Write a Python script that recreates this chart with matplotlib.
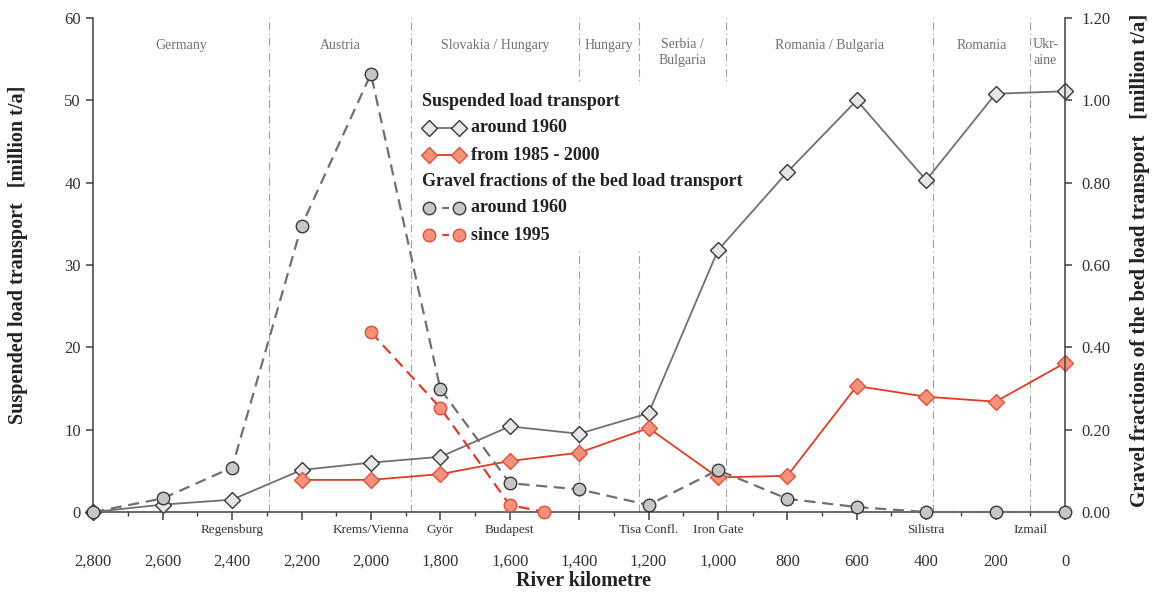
import matplotlib
matplotlib.use('Agg')
import matplotlib.pyplot as plt
from matplotlib.lines import Line2D
from matplotlib.patches import Rectangle
import numpy as np

plt.rcParams['font.family'] = ['Liberation Serif', 'DejaVu Serif']

# river kilometre stations (every 200 km)
river_km = [2800, 2600, 2400, 2200, 2000, 1800, 1600, 1400, 1200, 1000, 800, 600, 400, 200, 0]

# suspended load transport [million t/a], left axis
susp_1960 = [0.0, 0.9, 1.5, 5.1, 6.0, 6.7, 10.4, 9.5, 12.0, 31.8, 41.3, 50.0, 40.3, 50.8, 51.1]
susp_recent_km = [2200, 2000, 1800, 1600, 1400, 1200, 1000, 800, 600, 400, 200, 0]
susp_recent = [3.9, 3.9, 4.6, 6.2, 7.2, 10.2, 4.2, 4.4, 15.3, 14.0, 13.4, 18.1]

# gravel fractions of bed load [million t/a], right axis
gravel_1960 = [0.0, 0.033, 0.108, 0.695, 1.064, 0.299, 0.070, 0.055, 0.017, 0.102,
               0.032, 0.012, 0.0, 0.0, 0.0]
gravel_recent_km = [2000, 1800, 1600, 1500]
gravel_recent = [0.437, 0.253, 0.017, 0.0]

# country borders and labels
borders_km = [2293, 1885, 1400, 1227, 978, 381, 100]
countries = ['Germany', 'Austria', 'Slovakia / Hungary', 'Hungary', 'Serbia /\nBulgaria',
             'Romania / Bulgaria', 'Romania', 'Ukr-\naine']

places = ['Regensburg', 'Krems/Vienna', 'Györ', 'Budapest', 'Tisa Confl.', 'Iron Gate',
          'Silistra', 'Izmail']
places_km = [2400, 2000, 1800, 1600, 1200, 1000, 400, 100]

W, H = 1156, 592
def px(x, y):
    return x / W, 1 - y / H

GRAY_LINE = '#707070'
RED_LINE = '#e03c28'
RED_FACE = '#f4917a'
RED_EDGE = '#e0503a'
DIAM_FACE = '#e6e6e6'
CIRC_FACE = '#c6c6c6'
EDGE = '#383838'
AXC = '#404040'

fig = plt.figure(figsize=(W / 100, H / 100), dpi=100)
ax = fig.add_axes([93.3 / W, 80 / H, (1065 - 93.3) / W, 494 / H])
ax2 = ax.twinx()

ax.set_xlim(2800, 0)
ax.set_ylim(0, 60)
ax2.set_ylim(0, 1.2)

for a in (ax, ax2):
    a.spines['top'].set_visible(False)
    for s in a.spines.values():
        s.set_color(AXC)
        s.set_linewidth(1.1)
ax.spines['right'].set_visible(False)
ax2.spines['left'].set_visible(False)
ax2.spines['bottom'].set_visible(False)

# border lines
for b in borders_km:
    ax.axvline(b, color='#a0a0a0', lw=0.8, ls=(0, (7, 3, 1, 3)), zorder=1)

# white box behind the legend
ax.add_patch(Rectangle(px(415, 250), 350 / W, 165 / H, transform=fig.transFigure,
                       facecolor='white', edgecolor='none', zorder=2))

dash = (0, (5, 3))
ax.plot(river_km, susp_1960, color=GRAY_LINE, lw=1.3, marker='D', ms=8,
        mfc=DIAM_FACE, mec=EDGE, mew=1.0, zorder=3, clip_on=False)
ax.plot(susp_recent_km, susp_recent, color=RED_LINE, lw=1.3, marker='D', ms=8,
        mfc=RED_FACE, mec=RED_EDGE, mew=1.0, zorder=3, clip_on=False)
ax2.plot(river_km, gravel_1960, color=GRAY_LINE, lw=1.6, ls=dash, marker='o', ms=9,
         mfc=CIRC_FACE, mec=EDGE, mew=1.0, zorder=3, clip_on=False)
ax2.plot(gravel_recent_km, gravel_recent, color=RED_LINE, lw=1.6, ls=dash, marker='o', ms=9,
         mfc=RED_FACE, mec=RED_EDGE, mew=1.0, zorder=4, clip_on=False)

# ticks
ax.set_xticks(river_km)
ax.set_xticklabels([f'{k:,}' for k in river_km])
ax.set_xticks(list(range(2700, 0, -200)), minor=True)
ax.tick_params(axis='x', which='major', direction='out', length=6, width=1.1, pad=24,
               labelsize=12, color=AXC, labelcolor='#333333')
ax.tick_params(axis='x', which='minor', direction='out', length=3, width=1.0, color=AXC)
ax.set_yticks(range(0, 61, 10))
ax.tick_params(axis='y', direction='out', length=5, width=1.1, pad=4, labelsize=12,
               color=AXC, labelcolor='#333333')
gticks = np.arange(0, 1.21, 0.2)
ax2.set_yticks(gticks)
ax2.set_yticklabels([f'{v:.2f}' for v in gticks])
ax2.tick_params(axis='y', direction='out', length=5, width=1.1, pad=7, labelsize=12,
                color=AXC, labelcolor='#333333')

# country labels
edges = [2800] + borders_km + [0]
for i, name in enumerate(countries):
    if name.startswith('Ukr'):
        ax.text(borders_km[-1] - 8, 0.93, name, ha='left', va='center', fontsize=10,
                color='#707070', transform=ax.get_xaxis_transform(), linespacing=1.3)
    else:
        mid = (edges[i] + edges[i + 1]) / 2
        yy = 0.93 if '\n' in name else 0.945
        ax.text(mid, yy, name, ha='center', va='center', fontsize=10,
                color='#707070', transform=ax.get_xaxis_transform(), linespacing=1.3)

# place labels under the axis
for name, km in zip(places, places_km):
    ax.annotate(name, xy=(km, 0), xycoords=('data', 'axes fraction'),
                xytext=(0, -13), textcoords='offset points', ha='center', va='center',
                fontsize=9.5, color='#333333', annotation_clip=False)

# axis labels
fig.text(*px(18, 255), 'Suspended load transport   [million t/a]', rotation=90,
         ha='center', va='center', fontsize=14.5, fontweight='bold', color='#222222')
fig.text(*px(1140, 260), 'Gravel fractions of the bed load transport   [million t/a]',
         rotation=90, ha='center', va='center', fontsize=15, fontweight='bold', color='#222222')
fig.text(*px(584, 581), 'River kilometre', ha='center', va='center', fontsize=14.5,
         fontweight='bold', color='#222222')

# legend (drawn by hand so headers sit flush with the handles)
rows = [
    ('Suspended load transport', None),
    ('around 1960', dict(color=GRAY_LINE, lw=1.3, marker='D', ms=8, mfc=DIAM_FACE, mec=EDGE)),
    ('from 1985 - 2000', dict(color=RED_LINE, lw=1.3, marker='D', ms=8, mfc=RED_FACE, mec=RED_EDGE)),
    ('Gravel fractions of the bed load transport', None),
    ('around 1960', dict(color=GRAY_LINE, lw=1.6, ls=(0, (3, 3)), marker='o', ms=9,
                         mfc=CIRC_FACE, mec=EDGE)),
    ('since 1995', dict(color=RED_LINE, lw=1.6, ls=(0, (3, 3)), marker='o', ms=9,
                        mfc=RED_FACE, mec=RED_EDGE)),
]
row_y = [101, 128, 155, 182, 208, 235]
for (label, style), y in zip(rows, row_y):
    if style is None:
        fig.text(*px(422, y), label, ha='left', va='center', fontsize=13,
                 fontweight='bold', color='#222222')
    else:
        (x0, yy), (x1, _) = px(429, y), px(459, y)
        fig.add_artist(Line2D([x0, x1], [yy, yy], transform=fig.transFigure, mew=1.0, **style))
        fig.text(*px(471, y), label, ha='left', va='center', fontsize=13,
                 fontweight='bold', color='#222222')

fig.savefig('out.png', dpi=100)
